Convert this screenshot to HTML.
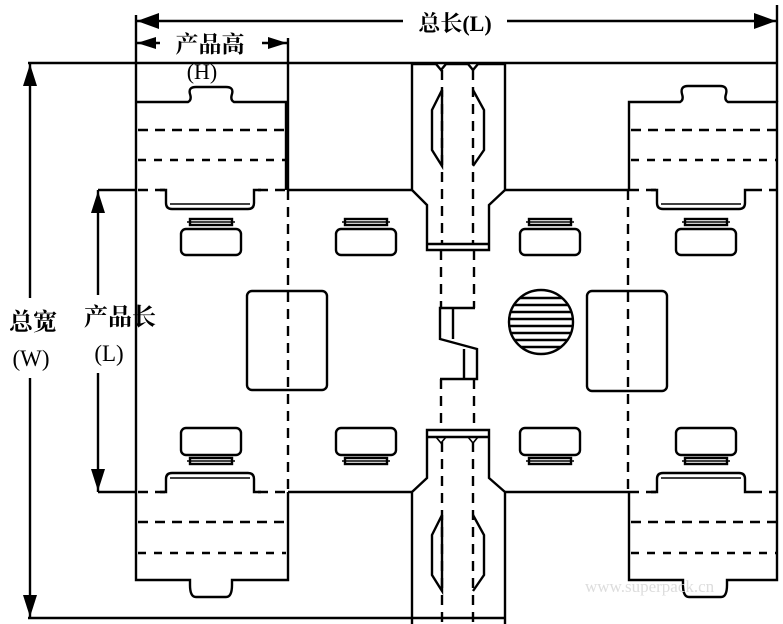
<!DOCTYPE html>
<html><head><meta charset="utf-8"><style>
html,body{margin:0;padding:0;background:#fff;}
svg{display:block;}
text{font-family:"Liberation Serif","Noto Serif CJK SC","Noto Sans CJK SC",serif;fill:#000;}
</style></head><body>
<svg width="783" height="624" viewBox="0 0 783 624" xmlns="http://www.w3.org/2000/svg">
<defs>
<g id="btnT" fill="none" stroke="#000" stroke-width="2.4">
  <rect x="0" y="11" width="60" height="26" rx="5"/>
  <rect x="9" y="1" width="42" height="6"/>
  <line x1="6" y1="4" x2="54" y2="4" stroke-width="1.5"/>
</g>
<g id="btnB" fill="none" stroke="#000" stroke-width="2.4">
  <rect x="0" y="0" width="60" height="27" rx="5"/>
  <rect x="9" y="30" width="42" height="6"/>
  <line x1="6" y1="33" x2="54" y2="33" stroke-width="1.5"/>
</g>
<g id="brT" fill="none" stroke="#000" stroke-width="2.4">
  <path d="M0 190 H6 V203 Q6 209 12 209 H88 Q94 209 94 203 V190 H101"/>
  <line x1="10" y1="204" x2="90" y2="204" stroke-width="1.6"/>
</g>
<g id="brB" fill="none" stroke="#000" stroke-width="2.4">
  <path d="M0 492 H6 V479 Q6 473 12 473 H88 Q94 473 94 479 V492 H101"/>
  <line x1="10" y1="478" x2="90" y2="478" stroke-width="1.6"/>
</g>
<g id="ovals" fill="none" stroke="#000" stroke-width="2.4">
  <path d="M442 90 L432 110 V150 L442 166 Z"/>
  <path d="M473 90 L484 110 V150 L473 166"/>
</g>
</defs>

<g stroke="#000" stroke-width="2.4" fill="none">
  <line x1="136" y1="21" x2="777" y2="21"/>
  <line x1="136" y1="43" x2="288" y2="43"/>
  <line x1="28" y1="63" x2="777" y2="63"/>
  <line x1="28" y1="618" x2="505" y2="618"/>
  <line x1="30" y1="63" x2="30" y2="618"/>
  <line x1="98" y1="190" x2="98" y2="492"/>
  <line x1="98" y1="190" x2="136" y2="190"/>
  <line x1="98" y1="492" x2="136" y2="492"/>
  <line x1="777" y1="5" x2="777" y2="102"/>
  <line x1="288" y1="38" x2="288" y2="190"/>

  <path d="M136 15 V580 H190 V585 Q190 597 196 597 H226 Q232 597 232 585 V580 H288 V492"/>
  <path d="M136 102 H188 Q192 100 190 94 Q188 87 196 87 H226 Q234 87 232 94 Q230 100 234 102 H286 V190"/>
  <path d="M629 190 V102 H680 Q684 100 682 94 Q680 86 688 86 H720 Q728 86 726 94 Q724 100 728 102 H777 V580 H727 V585 Q727 597 721 597 H689 Q683 597 683 585 V580 H629 V492"/>

  <line x1="288" y1="190" x2="412" y2="190"/>
  <line x1="505" y1="190" x2="629" y2="190"/>
  <line x1="288" y1="492" x2="412" y2="492"/>
  <line x1="505" y1="492" x2="629" y2="492"/>

  <path d="M412 64 V190 L427 205 V250 H489 V205 L505 190 V64 H486 L478 64 L473 70 L468 64 H446 L441 70 L436 64 Z"/>
  <line x1="427" y1="244" x2="489" y2="244"/>
  <path d="M412 624 V492 L427 478 V430 H489 V478 L505 492 V624"/>
  <line x1="427" y1="437" x2="489" y2="437"/>
  <path d="M427 437 L436 437 L441 443 L446 437 H468 L473 443 L478 437" stroke-width="1.6"/>

  <path d="M475 308 H440 V339 L477 349 V379 H440"/>
  <line x1="453" y1="308" x2="453" y2="339"/>
  <line x1="464" y1="349" x2="464" y2="379"/>

  <rect x="247" y="291" width="80" height="99" rx="5"/>
  <rect x="587" y="291" width="80" height="100" rx="5"/>
</g>

<g stroke="#000" stroke-width="2.4" fill="none" stroke-dasharray="10 7">
  <line x1="138" y1="130" x2="286" y2="130"/>
  <line x1="138" y1="160" x2="286" y2="160" stroke-dasharray="8 8"/>
  <line x1="138" y1="190" x2="165" y2="190"/>
  <line x1="258" y1="190" x2="288" y2="190"/>
  <line x1="631" y1="130" x2="777" y2="130"/>
  <line x1="631" y1="160" x2="777" y2="160" stroke-dasharray="8 8"/>
  <line x1="629" y1="190" x2="656" y2="190"/>
  <line x1="752" y1="190" x2="777" y2="190"/>
  <line x1="138" y1="522" x2="286" y2="522"/>
  <line x1="138" y1="553" x2="286" y2="553" stroke-dasharray="8 8"/>
  <line x1="138" y1="492" x2="165" y2="492"/>
  <line x1="258" y1="492" x2="288" y2="492"/>
  <line x1="631" y1="522" x2="777" y2="522"/>
  <line x1="631" y1="553" x2="777" y2="553" stroke-dasharray="8 8"/>
  <line x1="629" y1="492" x2="656" y2="492"/>
  <line x1="752" y1="492" x2="777" y2="492"/>
  <line x1="288" y1="190" x2="288" y2="492"/>
  <line x1="628" y1="190" x2="628" y2="492"/>
  <line x1="442" y1="70" x2="442" y2="245"/>
  <line x1="473" y1="70" x2="473" y2="245"/>
  <line x1="441" y1="250" x2="441" y2="308"/>
  <line x1="474" y1="250" x2="474" y2="308"/>
  <line x1="441" y1="379" x2="441" y2="430"/>
  <line x1="474" y1="379" x2="474" y2="430"/>
  <line x1="442" y1="442" x2="442" y2="624"/>
  <line x1="473" y1="442" x2="473" y2="624"/>
</g>

<use href="#ovals"/>
<use href="#ovals" transform="translate(0,425)"/>

<use href="#brT" transform="translate(160,0)"/>
<use href="#brT" transform="translate(651,0)"/>
<use href="#brB" transform="translate(160,0)"/>
<use href="#brB" transform="translate(651,0)"/>

<use href="#btnT" transform="translate(181,218)"/>
<use href="#btnT" transform="translate(336,218)"/>
<use href="#btnT" transform="translate(520,218)"/>
<use href="#btnT" transform="translate(676,218)"/>
<use href="#btnB" transform="translate(181,428)"/>
<use href="#btnB" transform="translate(336,428)"/>
<use href="#btnB" transform="translate(520,428)"/>
<use href="#btnB" transform="translate(676,428)"/>

<g>
  <clipPath id="cc"><circle cx="541" cy="322" r="32"/></clipPath>
  <circle cx="541" cy="322" r="32" fill="none" stroke="#000" stroke-width="2.4"/>
  <g clip-path="url(#cc)" stroke="#000" stroke-width="2.4">
    <line x1="505" y1="298" x2="580" y2="298"/>
    <line x1="505" y1="305" x2="580" y2="305"/>
    <line x1="505" y1="312" x2="580" y2="312"/>
    <line x1="505" y1="319" x2="580" y2="319"/>
    <line x1="505" y1="326" x2="580" y2="326"/>
    <line x1="505" y1="333" x2="580" y2="333"/>
    <line x1="505" y1="340" x2="580" y2="340"/>
    <line x1="505" y1="347" x2="580" y2="347"/>
  </g>
</g>

<g fill="#000">
  <polygon points="137,21 159,13 159,29"/>
  <polygon points="776,21 754,13 754,29"/>
  <polygon points="137,43 156,37 156,49"/>
  <polygon points="287,43 268,37 268,49"/>
  <polygon points="30,64 23,86 37,86"/>
  <polygon points="30,617 23,595 37,595"/>
  <polygon points="98,191 91,213 105,213"/>
  <polygon points="98,491 91,469 105,469"/>
</g>

<rect x="403" y="8" width="104" height="28" fill="#fff"/>
<text x="455" y="31" font-size="22" text-anchor="middle" font-weight="bold">总长(L)</text>
<rect x="160" y="30" width="102" height="26" fill="#fff"/>
<text x="210" y="52" font-size="23" text-anchor="middle" font-weight="bold">产品高</text>
<text x="202" y="79" font-size="22" text-anchor="middle">(H)</text>
<rect x="2" y="298" width="62" height="80" fill="#fff"/>
<text x="33" y="330" font-size="24" text-anchor="middle" font-weight="bold">总宽</text>
<text x="31" y="366" font-size="23" text-anchor="middle">(W)</text>
<rect x="76" y="295" width="58" height="78" fill="#fff"/>
<text x="120" y="325" font-size="24" text-anchor="middle" font-weight="bold">产品长</text>
<text x="109" y="361" font-size="23" text-anchor="middle">(L)</text>
<text x="585" y="592" font-size="17" style="fill:#ddd" font-family="Liberation Mono, monospace">www.superpack.cn</text>
</svg>
</body></html>
